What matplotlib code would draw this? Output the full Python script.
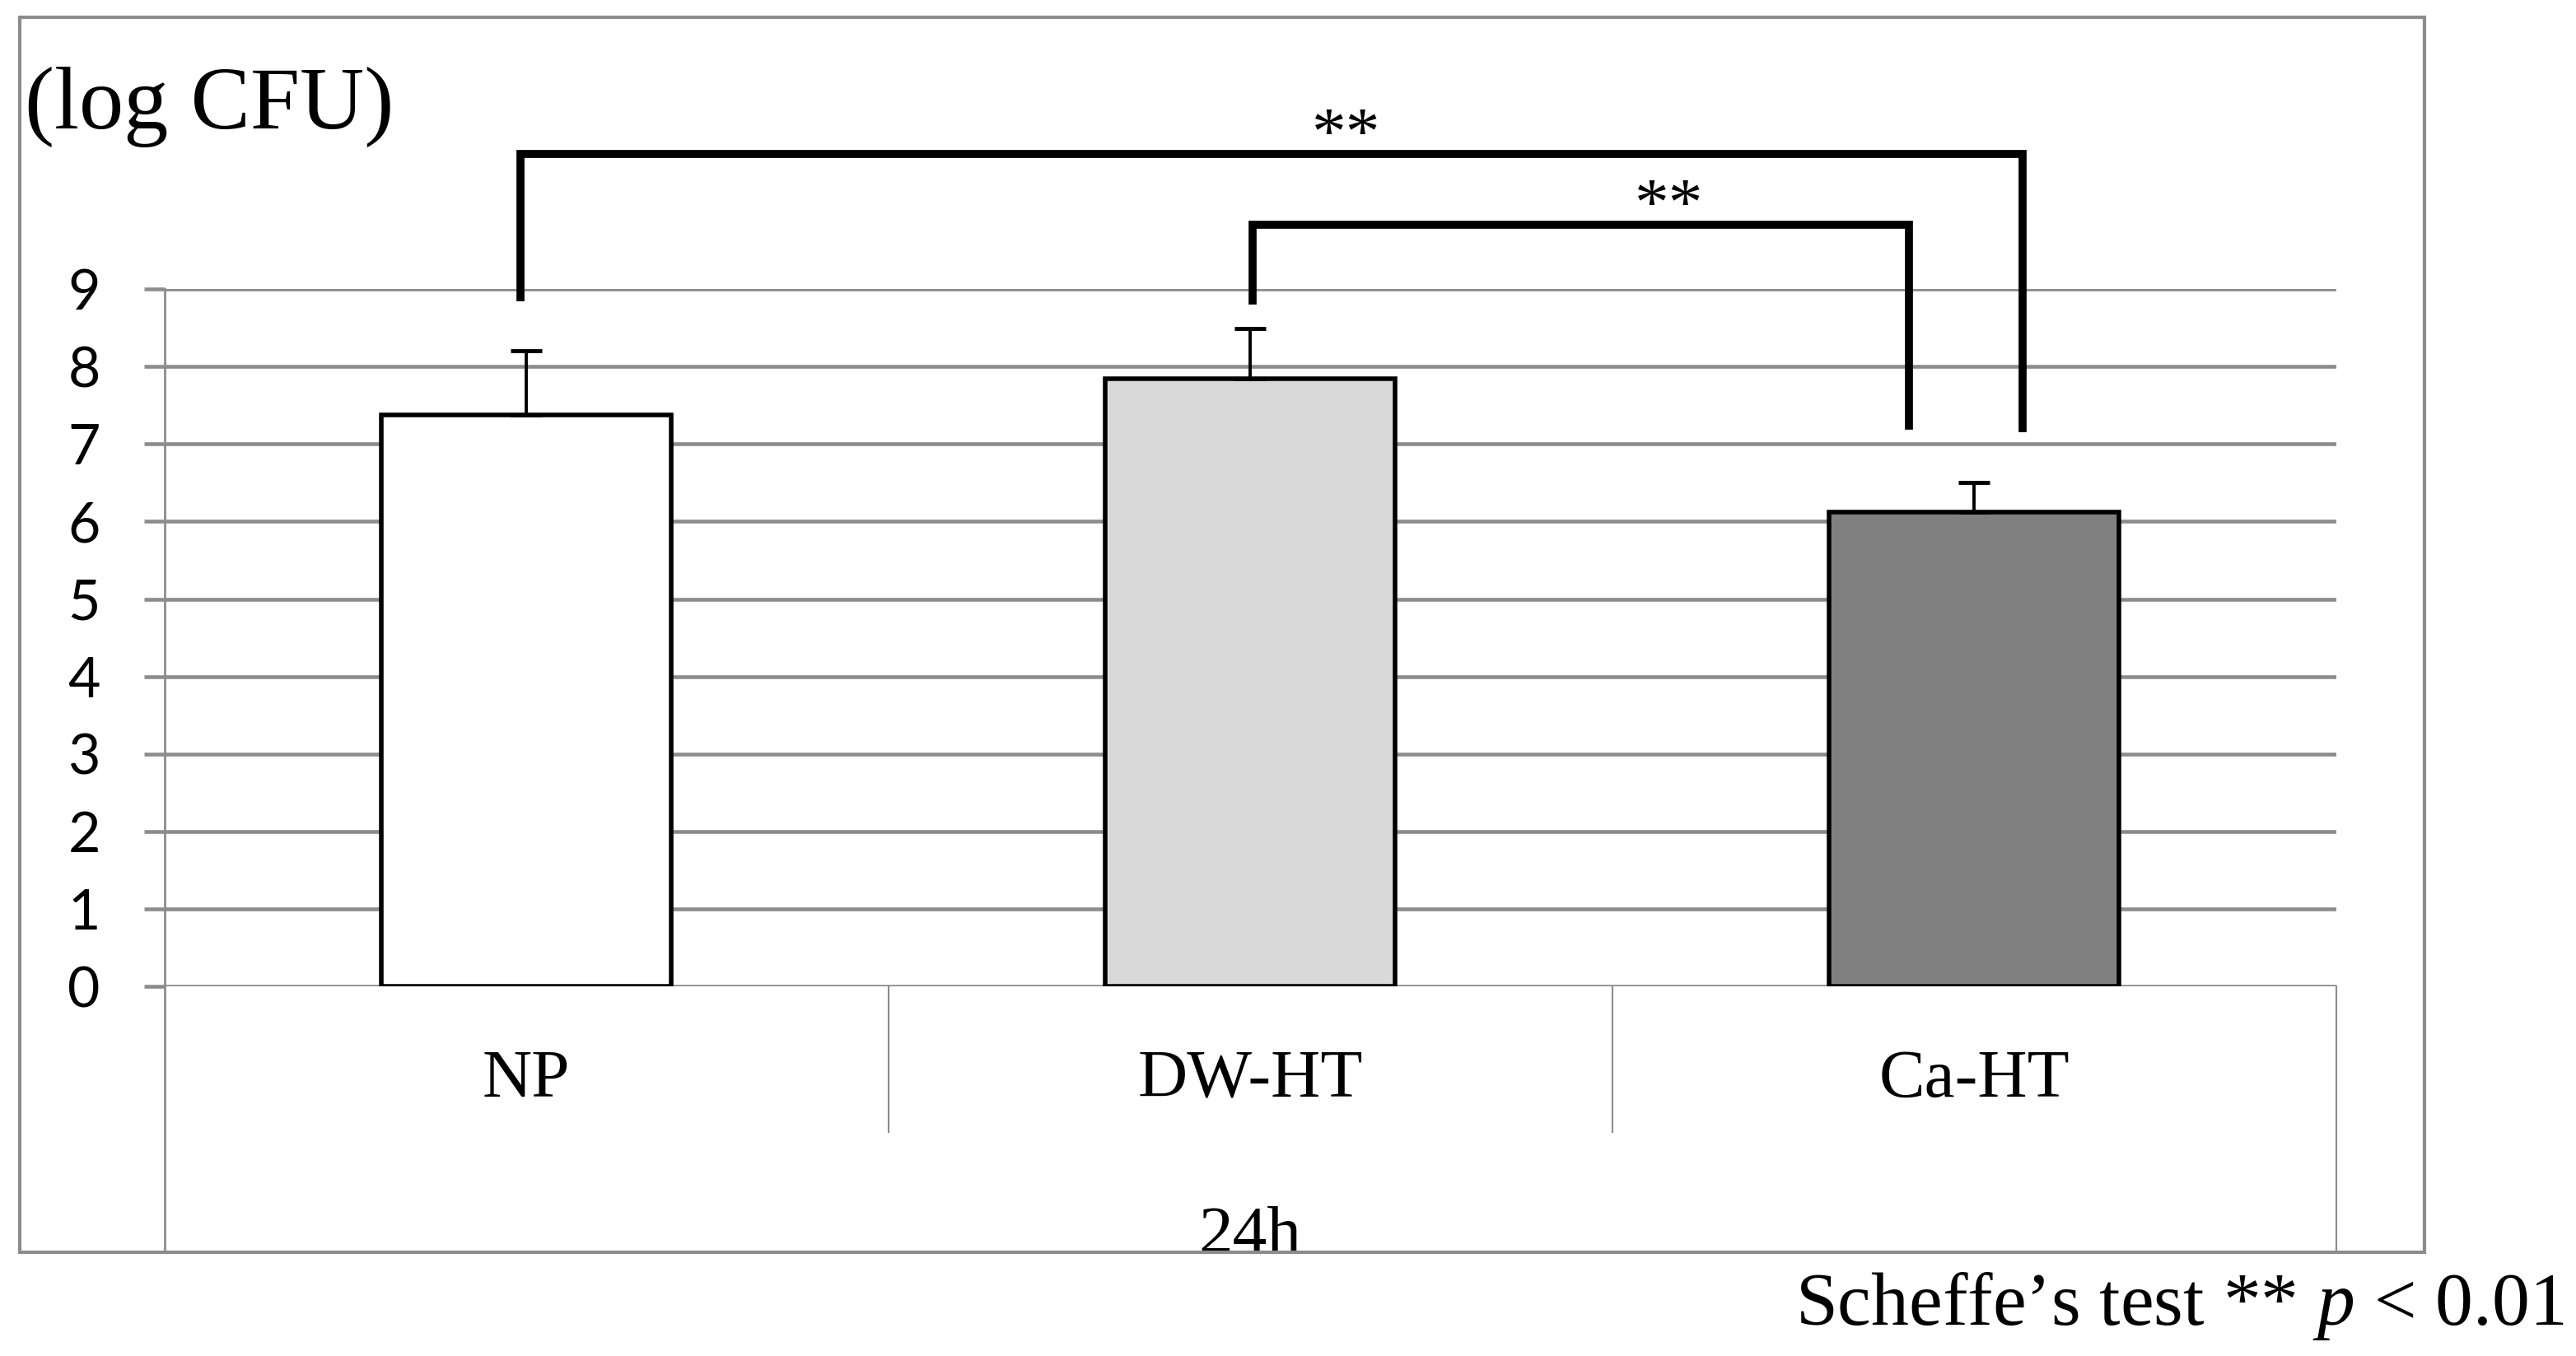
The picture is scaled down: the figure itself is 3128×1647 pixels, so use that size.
import numpy as np
import matplotlib.pyplot as plt
import matplotlib.transforms as mtransforms
from matplotlib.patches import Rectangle


# -----------------------------------------------------------------------------
# data
# -----------------------------------------------------------------------------
groups = ['NP', 'DW-HT', 'Ca-HT']
means = [7.37, 7.84, 6.12]
sd_upper = [0.83, 0.65, 0.38]
bar_colors = ['#ffffff', '#d9d9d9', '#808080']
y_ticks = [0, 1, 2, 3, 4, 5, 6, 7, 8, 9]
time_label = '24h'
unit_label = '(log CFU)'
note_label = 'Scheffe\u2019s test ** $\\it{p}$ < 0.01'

# significant pairs (group index left, group index right)
sig_pairs = [(0, 2), (1, 2)]
sig_marks = ['**', '**']


GRAY = '#8c8c8c'
SERIF = 'Liberation Serif'

fig = plt.figure(figsize=(31.28, 16.47), dpi=100)
plt.rcParams['mathtext.fontset'] = 'custom'
plt.rcParams['mathtext.it'] = 'Liberation Serif:italic'
plt.rcParams['mathtext.rm'] = 'Liberation Serif'

ax = fig.add_axes([0.0638, 0.2724, 0.8431, 0.5145])

x = np.arange(len(groups)) + 0.5
ax.bar(x, means, width=0.4, color=bar_colors, edgecolor='black', linewidth=4, zorder=3)
ax.errorbar(x, means, yerr=[np.zeros(len(means)), sd_upper], fmt='none',
            ecolor='black', elinewidth=2.8, capsize=13.5, capthick=3.5, zorder=4)

ax.set_xlim(0, len(groups))
ax.set_ylim(0, 9)
ax.set_yticks(y_ticks)
ax.set_xticks([])
ax.yaxis.grid(True, color=GRAY, linewidth=3.3, zorder=0)
ax.set_axisbelow(True)
for s in ax.spines.values():
    s.set_visible(False)
ax.tick_params(axis='y', length=18, width=3.3, color=GRAY, pad=38, labelsize=49)
for lab in ax.get_yticklabels():
    lab.set_fontfamily('Lato')

# category box lines below the axis
low = -0.379
ax.plot([0, 0], [1, low], transform=ax.transAxes, color=GRAY, lw=2, clip_on=False)
ax.plot([1, 1], [0, low], transform=ax.transAxes, color=GRAY, lw=1.5, clip_on=False)
for k in range(1, len(groups)):
    ax.plot([k / len(groups)] * 2, [0, -0.209], transform=ax.transAxes,
            color=GRAY, lw=1.5, clip_on=False)

blend = mtransforms.blended_transform_factory(ax.transData, ax.transAxes)
for xi, name in zip(x, groups):
    ax.text(xi, -0.134, name, transform=blend, ha='center', va='center',
            fontsize=60, family=SERIF)
ax.text(0.5, -0.381, time_label, transform=ax.transAxes, ha='center',
        va='baseline', fontsize=60, family=SERIF)

# significance brackets
bracket_geom = [(-0.008, 0.067, 10.74, 8.89, 7.20), (0.003, -0.09, 9.83, 8.85, 7.24)]
star_geom = [(1.633, 10.74), (2.079, 9.83)]
for (i, j), (dl, dr, ytop, yl, yr), mark, (sx, sy) in zip(sig_pairs, bracket_geom, sig_marks, star_geom):
    xl = x[i] + dl
    xr = x[j] + dr
    ax.plot([xl, xl, xr, xr], [yl, ytop, ytop, yr], color='black', lw=7,
            solid_joinstyle='miter', clip_on=False, zorder=5)
    ax.text(sx, sy, mark, ha='center', va='baseline', fontsize=60, family=SERIF)

# outer frame
fig.add_artist(Rectangle((0.0077, 0.0765), 0.9335, 0.9107, transform=fig.transFigure,
                         fill=False, edgecolor=GRAY, linewidth=3, zorder=10))

fig.text(0.0096, 0.921, unit_label, ha='left', va='center', fontsize=78, family=SERIF)
fig.text(0.9955, 0.037, note_label, ha='right', va='center', fontsize=66, family=SERIF)

fig.savefig('out.png', dpi=100)
